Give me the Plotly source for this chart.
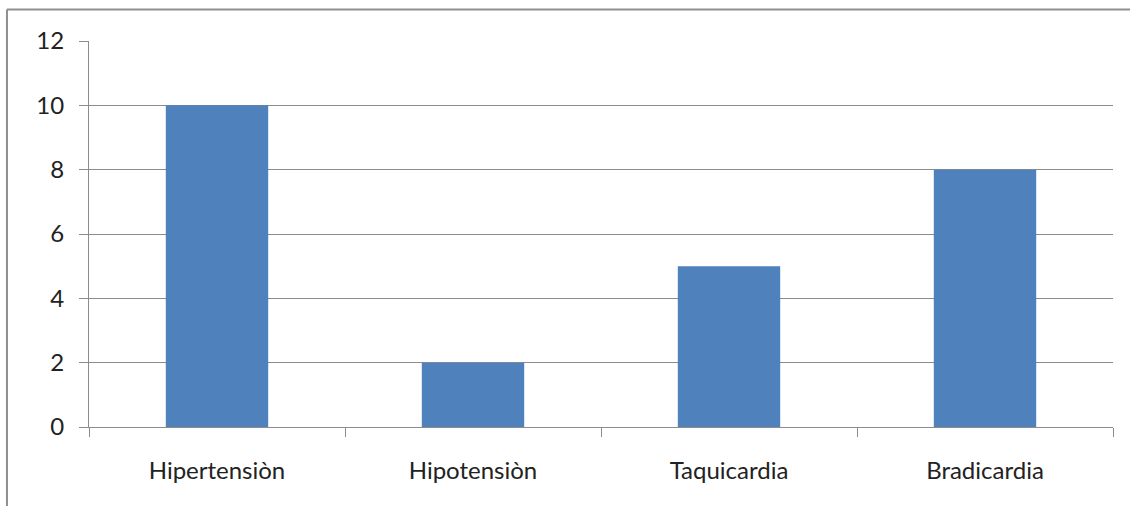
import plotly.graph_objects as go

# Categories and counts
categorias = ["Hipertensiòn", "Hipotensiòn", "Taquicardia", "Bradicardia"]
valores = [10, 2, 5, 8]
y_ticks = [0, 2, 4, 6, 8, 10, 12]

BAR_COLOR = "#4F81BD"
GRID = "#8C8C8C"
FONT = "Lato"
TEXT = "#222222"

fig = go.Figure(
    go.Bar(
        x=categorias,
        y=valores,
        marker=dict(color=BAR_COLOR, line=dict(width=0)),
        hoverinfo="x+y",
    )
)

fig.update_layout(
    width=1130,
    height=506,
    margin=dict(l=89, r=17, t=41, b=79),
    paper_bgcolor="white",
    plot_bgcolor="white",
    bargap=0.6,
    showlegend=False,
    font=dict(family=FONT, size=24, color=TEXT),
)

fig.update_xaxes(
    type="category",
    range=[-0.5, 3.5],
    showline=True,
    linecolor=GRID,
    linewidth=1,
    ticks="outside",
    tickson="boundaries",
    ticklen=9,
    tickcolor=GRID,
    tickwidth=1,
    showgrid=False,
    tickfont=dict(family=FONT, size=24, color=TEXT),
    ticklabelstandoff=22,
)

fig.update_yaxes(
    range=[0, 12],
    tickvals=y_ticks,
    showline=True,
    linecolor=GRID,
    linewidth=1,
    ticks="outside",
    ticklen=9,
    tickcolor=GRID,
    tickwidth=1,
    showgrid=True,
    gridcolor=GRID,
    gridwidth=1,
    zeroline=False,
    tickfont=dict(family=FONT, size=24, color=TEXT),
    ticklabelstandoff=10,
)

# Chart-area border (left and top edges)
border = dict(color="#8F8F8F", width=2)
fig.add_shape(type="line", xref="paper", yref="paper",
              x0=-0.0801, x1=-0.0801, y0=1.0816, y1=-0.25, line=border)
fig.add_shape(type="line", xref="paper", yref="paper",
              x0=-0.0801, x1=1.05, y0=1.0816, y1=1.0816, line=border)

fig.write_html("out.html")
